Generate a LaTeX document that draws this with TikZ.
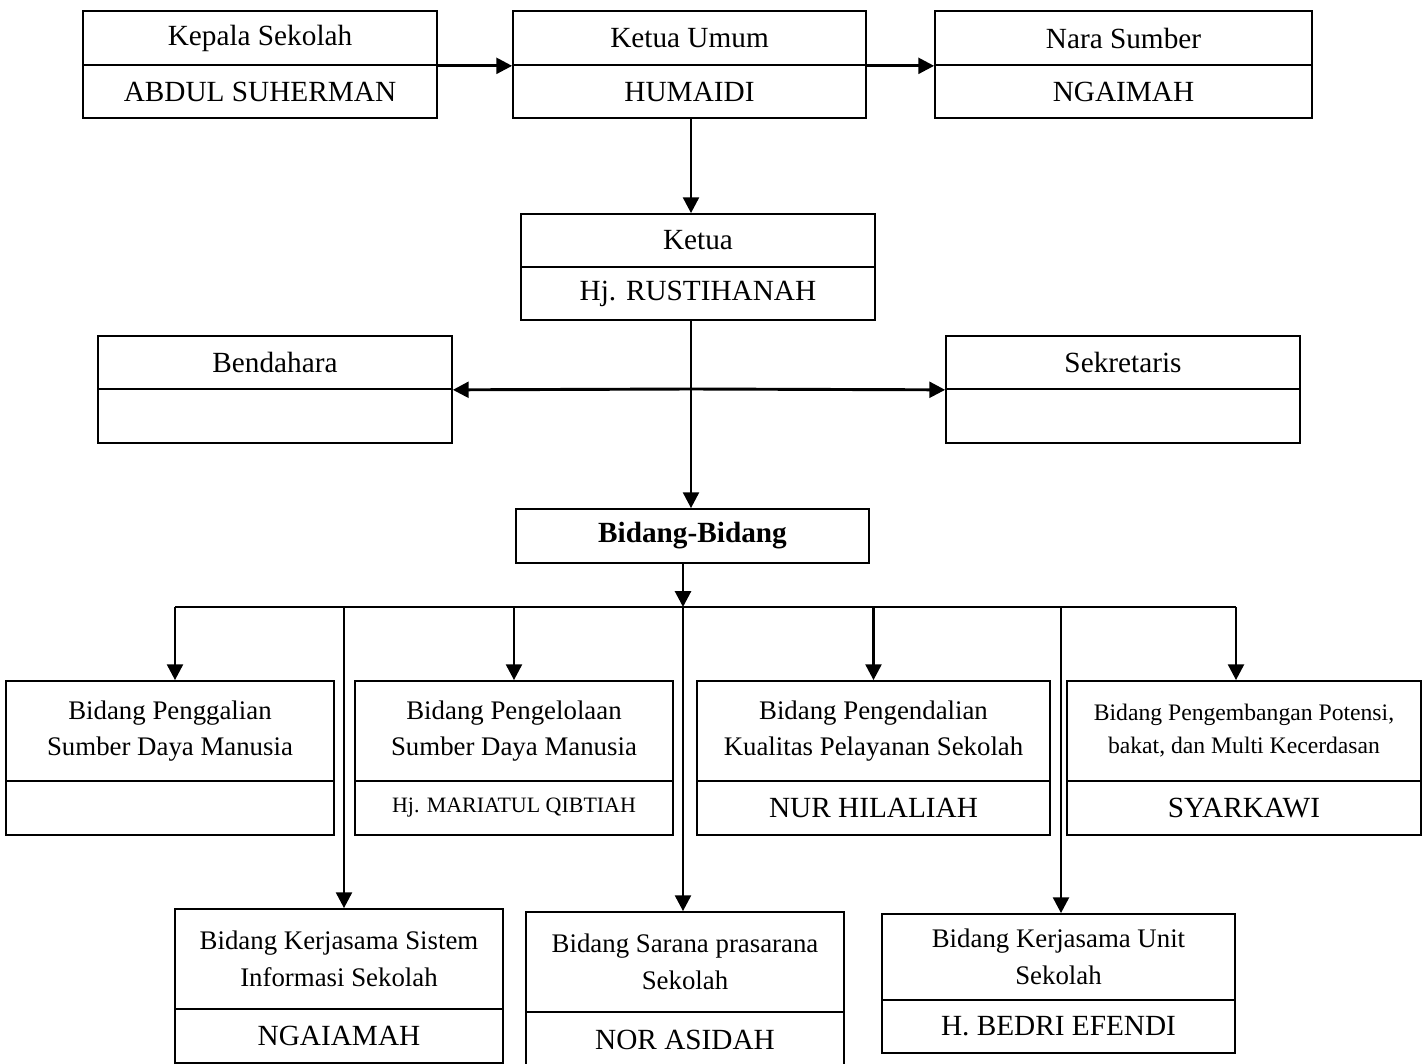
\documentclass[tikz,border=0pt]{standalone}
\usepackage{fontspec}
\setmainfont{Liberation Serif}
\usetikzlibrary{arrows.meta}
\newcommand{\pxu}{0.41pt}
\begin{document}
\begin{tikzpicture}[x=0.41pt, y=-0.41pt, >={Triangle[length=6.5pt,width=6.5pt]}]
\tikzstyle{cell_style} = [draw=black, line width=0.7pt, inner sep=0pt, align=center, font=\fontsize{12}{14}\selectfont]
\tikzstyle{title_style} = [cell_style, font=\fontsize{11}{15}\selectfont]
\tikzstyle{edge_style} = [draw=black, line width=1.2pt]

\useasboundingbox (0,0) rectangle (1427,1064);

% top row
\node[cell_style, minimum width=354*\pxu, minimum height=54*\pxu] (ks_t) at (260,38) {Kepala Sekolah};
\node[cell_style, minimum width=354*\pxu, minimum height=53*\pxu] (ks_n) at (260,91.5) {ABDUL SUHERMAN};
\node[cell_style, minimum width=353*\pxu, minimum height=54*\pxu] (ku_t) at (689.5,38) {Ketua Umum};
\node[cell_style, minimum width=353*\pxu, minimum height=53*\pxu] (ku_n) at (689.5,91.5) {HUMAIDI};
\node[cell_style, minimum width=377*\pxu, minimum height=54*\pxu] (ns_t) at (1123.5,38) {Nara Sumber};
\node[cell_style, minimum width=377*\pxu, minimum height=53*\pxu] (ns_n) at (1123.5,91.5) {NGAIMAH};

% ketua, bendahara, sekretaris
\node[cell_style, minimum width=354*\pxu, minimum height=53*\pxu] (kt_t) at (698,240.5) {Ketua};
\node[cell_style, minimum width=354*\pxu, minimum height=53*\pxu] (kt_n) at (698,293.5) {Hj. RUSTIHANAH};
\node[cell_style, minimum width=354*\pxu, minimum height=53*\pxu] (bd_t) at (275,362.5) {Bendahara};
\node[cell_style, minimum width=354*\pxu, minimum height=54*\pxu] (bd_n) at (275,416) {};
\node[cell_style, minimum width=354*\pxu, minimum height=53*\pxu] (sk_t) at (1123,362.5) {Sekretaris};
\node[cell_style, minimum width=354*\pxu, minimum height=54*\pxu] (sk_n) at (1123,416) {};

\node[cell_style, minimum width=353*\pxu, minimum height=54*\pxu, font=\fontsize{12}{14}\selectfont\bfseries] (bb) at (692.5,536) {Bidang-Bidang};

% bidang, first row
\node[title_style, minimum width=328*\pxu, minimum height=100*\pxu] (b1_t) at (170,731) {Bidang Penggalian\\Sumber Daya Manusia};
\node[cell_style, minimum width=328*\pxu, minimum height=54*\pxu] (b1_n) at (170,808) {};
\node[title_style, minimum width=318*\pxu, minimum height=100*\pxu] (b2_t) at (514,731) {Bidang Pengelolaan\\Sumber Daya Manusia};
\node[cell_style, minimum width=318*\pxu, minimum height=54*\pxu, font=\fontsize{9}{11}\selectfont] (b2_n) at (514,808) {Hj. MARIATUL QIBTIAH};
\node[title_style, minimum width=353*\pxu, minimum height=100*\pxu] (b3_t) at (873.5,731) {Bidang Pengendalian\\Kualitas Pelayanan Sekolah};
\node[cell_style, minimum width=353*\pxu, minimum height=54*\pxu] (b3_n) at (873.5,808) {NUR HILALIAH};
\node[title_style, minimum width=354*\pxu, minimum height=100*\pxu, font=\fontsize{9.7}{13.5}\selectfont] (b4_t) at (1244,731) {Bidang Pengembangan Potensi,\\bakat, dan Multi Kecerdasan};
\node[cell_style, minimum width=354*\pxu, minimum height=54*\pxu] (b4_n) at (1244,808) {SYARKAWI};

% bidang, second row
\node[title_style, minimum width=328*\pxu, minimum height=100*\pxu] (b5_t) at (339,959) {Bidang Kerjasama Sistem\\Informasi Sekolah};
\node[cell_style, minimum width=328*\pxu, minimum height=54*\pxu] (b5_n) at (339,1036) {NGAIAMAH};
\node[title_style, minimum width=318*\pxu, minimum height=100*\pxu] (b6_t) at (685,962) {Bidang Sarana prasarana\\Sekolah};
\node[cell_style, minimum width=318*\pxu, minimum height=56*\pxu] (b6_n) at (685,1040) {NOR ASIDAH};
\node[title_style, minimum width=353*\pxu, minimum height=86*\pxu] (b7_t) at (1058.5,957) {Bidang Kerjasama Unit\\Sekolah};
\node[cell_style, minimum width=353*\pxu, minimum height=53*\pxu] (b7_n) at (1058.5,1026.5) {H. BEDRI EFENDI};

% connectors
\coordinate (split) at (691,389);
\coordinate (hub) at (683,607);
\coordinate (hl) at (175,607);
\coordinate (hr) at (1236,607);
\coordinate (l5) at (344,607);
\coordinate (l7) at (1061,607);

\draw[edge_style, ->] (ks_t.south east) -- (ku_t.south west);
\draw[edge_style, ->] (ku_t.south east) -- (ns_t.south west);
\draw[edge_style, ->] (ku_n.south -| split) -- (split |- kt_t.north);
\draw[edge_style, ->] (kt_n.south -| split) -- (split |- bb.north);
\draw[edge_style, ->] (split) -- (bd_t.south east);
\draw[edge_style, ->] (split) -- (sk_t.south west);
\draw[edge_style, ->] (bb.south -| hub) -- (hub);
\draw[edge_style] (hl) -- (hr);
\draw[edge_style, ->] (hl) -- (hl |- b1_t.north);
\draw[edge_style, ->] (b2_t.north |- hub) -- (b2_t.north);
\draw[edge_style, ->] (b3_t.north |- hub) -- (b3_t.north);
\draw[edge_style, ->] (hr) -- (hr |- b4_t.north);
\draw[edge_style, ->] (l5) -- (l5 |- b5_t.north);
\draw[edge_style, ->] (hub) -- (hub |- b6_t.north);
\draw[edge_style, ->] (l7) -- (l7 |- b7_t.north);
\end{tikzpicture}
\end{document}
